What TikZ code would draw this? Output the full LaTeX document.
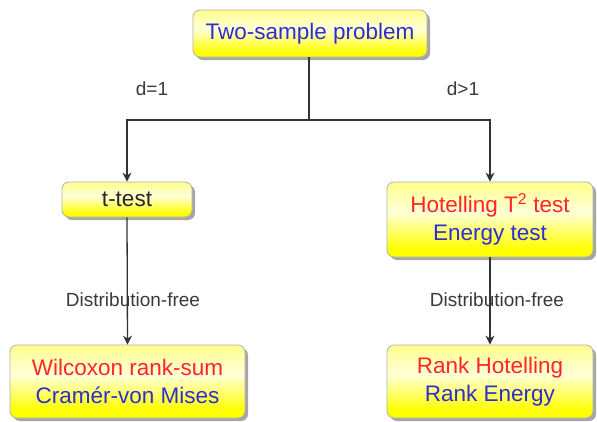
\documentclass[tikz,border=0pt]{standalone}
\usepackage{fontspec}
\setmainfont{Liberation Sans}
\usetikzlibrary{shadows,arrows.meta}
\definecolor{tblue}{HTML}{2E2ED0}
\definecolor{tred}{HTML}{FF2626}
\definecolor{tline}{HTML}{333333}
\definecolor{tlab}{HTML}{3A3A3A}
\definecolor{tedge}{HTML}{B0B0B0}
\pgfdeclareverticalshading{boxshade}{100bp}{color(0bp)=(yellow!92!orange); color(30bp)=(yellow); color(55bp)=(yellow!15!white); color(75bp)=(yellow!45!white); color(100bp)=(yellow!60!white)}
\tikzset{
  box/.style={draw=tedge, line width=0.8pt, rounded corners=7pt, shading=boxshade, align=center,
    font=\fontsize{22.5}{28}\selectfont, inner sep=0pt,
    drop shadow={shadow xshift=3pt, shadow yshift=-3pt, fill=black, opacity=.35}},
  conn/.style={draw=tline, line width=1.3pt},
  arr/.style={conn, -{Stealth[length=9pt,width=9pt]}},
  lab/.style={text=tlab, font=\fontsize{19}{22}\selectfont, inner sep=0pt}
}
\begin{document}
\begin{tikzpicture}[x=1pt,y=-1pt]
\useasboundingbox[fill=white] (0,0) rectangle (597,421);
\node[box, minimum width=234pt, minimum height=47pt, text=tblue] (top) at (310,33.5) {Two-sample problem};
\node[box, minimum width=130pt, minimum height=35pt, text=black!85] (ttest) at (127,199.5) {t-test};
\node[box, minimum width=206pt, minimum height=75pt] (hot) at (490,219.5) {\textcolor{tred}{Hotelling T\textsuperscript{2} test}\\\textcolor{tblue}{Energy test}};
\node[box, minimum width=235pt, minimum height=73pt] (wil) at (127.5,381.5) {\textcolor{tred}{Wilcoxon rank-sum}\\\textcolor{tblue}{Cramér-von Mises}};
\node[box, minimum width=206pt, minimum height=73pt] (rank) at (490,381.5) {\textcolor{tred}{Rank Hotelling}\\\textcolor{tblue}{Rank Energy}};
\coordinate (j) at (309,120);
\node[lab] (d1) at (152,89) {d=1};
\node[lab] (d2) at (463,89) {d>1};
\node[lab] (df1) at (133,300) {Distribution-free};
\node[lab] (df2) at (497,300) {Distribution-free};
\draw[conn] (top.south -| j) -- (j);
\draw[arr] (j) -| (ttest.north);
\draw[arr] (j) -| (hot.north);
\draw[arr] (ttest.south) -- (wil.north);
\draw[arr] (hot.south) -- (rank.north);
\end{tikzpicture}
\end{document}
